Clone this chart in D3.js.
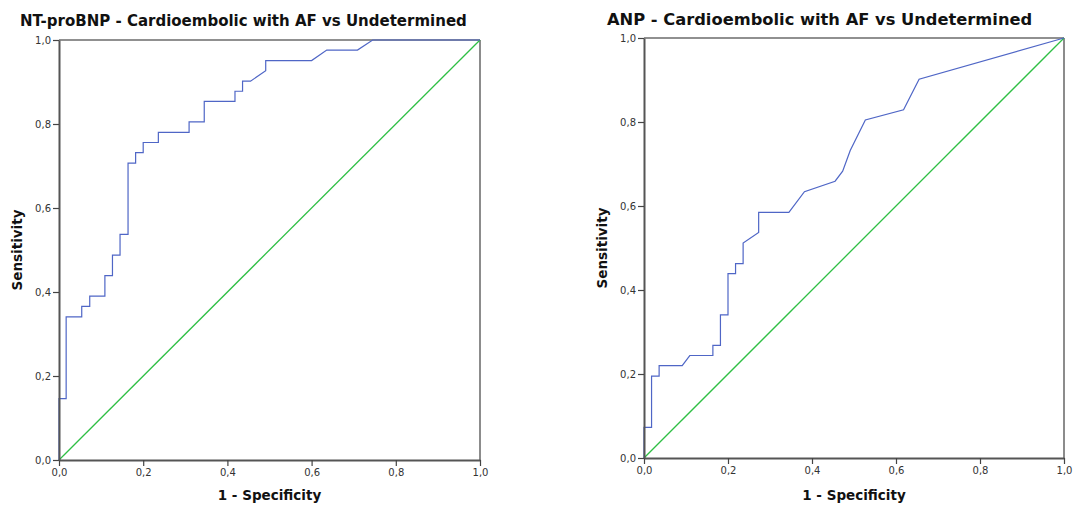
<!DOCTYPE html>
<html>
<head>
<meta charset="utf-8">
<script src="https://cdn.jsdelivr.net/npm/d3@7"></script>
<style>
  html, body { margin: 0; padding: 0; background: #fff; }
  svg { display: block; }
  .tick text { font-family: "DejaVu Sans", sans-serif; font-size: 10px; fill: #333; }
  .title { font-family: "DejaVu Sans", sans-serif; font-weight: bold; fill: #111; }
  .axis-title { font-family: "DejaVu Sans", sans-serif; font-weight: bold; font-size: 13.5px; fill: #111; }
</style>
</head>
<body>
<svg id="chart" width="1074" height="506"></svg>
<script>
// ROC curve coordinates: 1 - specificity (x) and sensitivity (y)
const ntprobnpFpr = [0, 0, 0.017, 0.017, 0.054, 0.054, 0.073, 0.073, 0.109, 0.109, 0.127, 0.127,
  0.145, 0.145, 0.164, 0.164, 0.182, 0.182, 0.2, 0.2, 0.236, 0.236, 0.309, 0.309, 0.345, 0.345,
  0.418, 0.418, 0.436, 0.436, 0.455, 0.491, 0.491, 0.6, 0.636, 0.709, 0.745, 1];
const ntprobnpTpr = [0, 0.146, 0.146, 0.341, 0.341, 0.366, 0.366, 0.390, 0.390, 0.439, 0.439, 0.488,
  0.488, 0.537, 0.537, 0.707, 0.707, 0.732, 0.732, 0.756, 0.756, 0.780, 0.780, 0.805, 0.805, 0.854,
  0.854, 0.878, 0.878, 0.902, 0.902, 0.927, 0.951, 0.951, 0.976, 0.976, 1, 1];

const anpFpr = [0, 0, 0.018, 0.018, 0.036, 0.036, 0.091, 0.109, 0.164, 0.164, 0.182, 0.182, 0.2, 0.2,
  0.218, 0.218, 0.236, 0.236, 0.273, 0.273, 0.345, 0.382, 0.455, 0.473, 0.491, 0.527, 0.618, 0.655, 1];
const anpTpr = [0, 0.073, 0.073, 0.195, 0.195, 0.22, 0.22, 0.244, 0.244, 0.268, 0.268, 0.341, 0.341,
  0.439, 0.439, 0.463, 0.463, 0.512, 0.537, 0.585, 0.585, 0.634, 0.659, 0.683, 0.732, 0.805, 0.829, 0.902, 1];

// Reference line (chance)
const refFpr = [0, 1];
const refTpr = [0, 1];

const tickValues = [0, 0.2, 0.4, 0.6, 0.8, 1.0];
const chartTitles = ["NT-proBNP - Cardioembolic with AF vs Undetermined", "ANP - Cardioembolic with AF vs Undetermined"];
const xAxisTitle = "1 - Specificity";
const yAxisTitle = "Sensitivity";

const commaLocale = d3.formatLocale({ decimal: ",", thousands: ".", grouping: [3], currency: ["", ""] });
const fmt = commaLocale.format(".1f");

const svg = d3.select("#chart");

const panels = [
  { left: 59, right: 480, top: 40, bottom: 460, titleX: 20, titleY: 26, titleSize: 15, yTitleX: 22,
    fpr: ntprobnpFpr, tpr: ntprobnpTpr, title: chartTitles[0] },
  { left: 644, right: 1064, top: 38, bottom: 458, titleX: 607, titleY: 25, titleSize: 16.3, yTitleX: 607,
    fpr: anpFpr, tpr: anpTpr, title: chartTitles[1] }
];

panels.forEach(p => {
  const x = d3.scaleLinear().domain([0, 1]).range([p.left, p.right]);
  const y = d3.scaleLinear().domain([0, 1]).range([p.bottom, p.top]);
  const g = svg.append("g");

  // frame: top and right edges
  g.append("line").attr("x1", p.left).attr("x2", p.right).attr("y1", p.top).attr("y2", p.top)
    .attr("stroke", "#222").attr("stroke-width", 1.2);
  g.append("line").attr("x1", p.right).attr("x2", p.right).attr("y1", p.top).attr("y2", p.bottom)
    .attr("stroke", "#666").attr("stroke-width", 1.5);

  // chance diagonal
  const line = d3.line().x(d => x(d[0])).y(d => y(d[1]));
  g.append("path").datum(d3.zip(refFpr, refTpr)).attr("d", line)
    .attr("fill", "none").attr("stroke", "#2fbf45").attr("stroke-width", 1.3);

  // ROC curve
  g.append("path").datum(d3.zip(p.fpr, p.tpr)).attr("d", line)
    .attr("fill", "none").attr("stroke", "#4f66c6").attr("stroke-width", 1.2);

  // axes
  const xAxis = g.append("g").attr("transform", `translate(0,${p.bottom})`)
    .call(d3.axisBottom(x).tickValues(tickValues).tickFormat(fmt).tickSize(6).tickPadding(3).tickSizeOuter(0));
  const yAxis = g.append("g").attr("transform", `translate(${p.left},0)`)
    .call(d3.axisLeft(y).tickValues(tickValues).tickFormat(fmt).tickSize(6).tickPadding(2).tickSizeOuter(0));
  [xAxis, yAxis].forEach(a => {
    a.select(".domain").attr("stroke", "#555").attr("stroke-width", 2);
    a.selectAll(".tick line").attr("stroke", "#444").attr("stroke-width", 1.2);
  });

  // titles
  g.append("text").attr("class", "title").attr("x", p.titleX).attr("y", p.titleY)
    .style("font-size", p.titleSize + "px").text(p.title);
  g.append("text").attr("class", "axis-title")
    .attr("x", (p.left + p.right) / 2).attr("y", 500).attr("text-anchor", "middle").text(xAxisTitle);
  g.append("text").attr("class", "axis-title")
    .attr("transform", `translate(${p.yTitleX},${(p.top + p.bottom) / 2}) rotate(-90)`)
    .attr("text-anchor", "middle").text(yAxisTitle);
});
</script>
</body>
</html>
